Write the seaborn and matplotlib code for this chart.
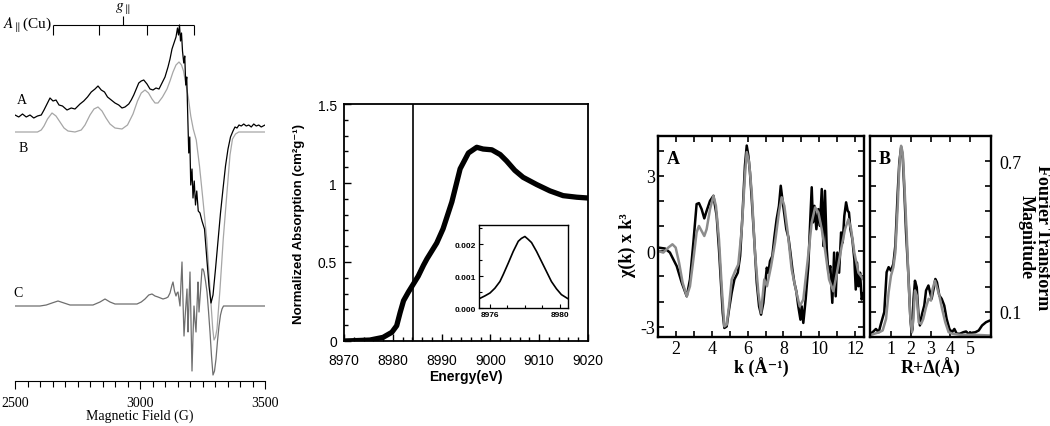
import numpy as np
import matplotlib
matplotlib.use("Agg")
import matplotlib.pyplot as plt
from matplotlib.ticker import MultipleLocator
import seaborn as sns

sns.set_style("ticks")
plt.rcParams["font.family"] = ["Liberation Serif", "DejaVu Serif"]
plt.rcParams["mathtext.fontset"] = "stix"
for key in ["text.color", "axes.labelcolor", "xtick.color", "ytick.color", "axes.edgecolor"]:
    plt.rcParams[key] = "black"
SANS = ["Liberation Sans", "DejaVu Sans"]

# ---------------- EPR spectra (field in G, signal in arbitrary units) ----------------
epr_field_a = [2500, 2515, 2530, 2545, 2560, 2575, 2590, 2605, 2616, 2628, 2640, 2652, 2664, 2676,
               2690, 2708, 2725, 2740, 2760, 2775, 2790, 2805, 2820, 2832, 2845, 2858, 2870, 2885,
               2900, 2915, 2928, 2940, 2955, 2965, 2975, 2985, 2995, 3005, 3015, 3028, 3040, 3052,
               3064, 3076, 3088, 3100, 3112, 3120, 3128, 3136, 3144, 3150, 3154, 3158, 3162, 3166,
               3170, 3175, 3179, 3183, 3187, 3191, 3195, 3199, 3203, 3208, 3212, 3217, 3222, 3227,
               3233, 3240, 3248, 3258, 3268, 3276, 3284, 3292, 3302, 3312, 3322, 3332, 3342, 3352,
               3362, 3372, 3380, 3388, 3396, 3405, 3415, 3425, 3435, 3445, 3455, 3465, 3475, 3485, 3500]
epr_a = [1, -1, 2, -1, 1, -2, 0, 1, 6, 12, 18, 15, 16, 11,
         10, 6, 8, 7, 12, 15, 19, 24, 27, 30, 26, 24, 19, 16,
         13, 11, 8, 9, 12, 16, 21, 27, 33, 35, 36, 32, 27, 26,
         28, 27, 33, 39, 49, 57, 67, 73, 79, 88, 81, 91, 75, 83,
         65, 53, 60, 31, 39, 0, -37, -21, -69, -53, -82, -65, -89, -75,
         -95, -97, -105, -113, -145, -170, -187, -179, -153, -125, -97, -73, -50, -33,
         -21, -15, -11, -12, -9, -10, -8, -10, -9, -11, -8, -10, -9, -11, -9]

epr_field_b = [2500, 2560, 2590, 2605, 2616, 2630, 2648, 2664, 2680, 2696, 2712, 2740, 2765, 2780,
               2800, 2816, 2832, 2848, 2864, 2880, 2900, 2928, 2950, 2972, 2990, 3005, 3020, 3034,
               3048, 3060, 3072, 3090, 3108, 3120, 3132, 3144, 3156, 3166, 3174, 3184, 3193, 3203,
               3213, 3225, 3238, 3253, 3267, 3280, 3291, 3296, 3302, 3308, 3320, 3333, 3349, 3360,
               3370, 3382, 3395, 3500]
epr_b = [0, 0, 0, 2, 6, 13, 19, 16, 10, 4, 1, 0, 2, 7,
         17, 23, 25, 21, 14, 8, 4, 3, 7, 18, 31, 39, 42, 39,
         33, 29, 29, 35, 43, 51, 60, 67, 70, 67, 61, 47, 35, 16,
         3, -8, -34, -71, -107, -157, -197, -208, -205, -197, -157, -107, -57, -23,
         -7, -2, 0, 0]

epr_field_c = [2500, 2600, 2625, 2648, 2672, 2696, 2720, 2812, 2840, 2860, 2880, 2900, 2988, 3005,
               3020, 3035, 3048, 3060, 3072, 3092, 3105, 3112, 3120, 3128, 3132, 3138, 3144, 3148,
               3152, 3156, 3160, 3164, 3168, 3172, 3176, 3182, 3188, 3190, 3192, 3196, 3200, 3204,
               3208, 3212, 3216, 3220, 3224, 3228, 3232, 3234, 3236, 3242, 3248, 3252, 3256, 3262,
               3268, 3274, 3280, 3286, 3292, 3298, 3304, 3310, 3316, 3322, 3328, 3334, 3340, 3500]
epr_c = [0, 0, 1, 3, 5, 3, 1, 1, 4, 7, 4, 2, 2, 4,
         7, 11, 12, 10, 9, 7, 8, 9, 13, 21, 24, 15, 10, 13,
         14, 7, 0, 23, 44, 5, -30, -5, 17, -5, -26, 5, 34, -15,
         -65, -30, 0, -15, -26, 0, 24, 10, -6, 15, 37, 37, 34, 25,
         14, -5, -26, -50, -69, -65, -53, -35, -20, -9, -3, 0, 0, 0]

hf_lines = [2652, 2836, 3028, 3216]
g_parallel = 2932

# ---------------- Cu K-edge XANES ----------------
xanes_energy = [8970, 8972, 8975.3, 8978, 8979.8, 8980.8, 8981.5, 8982.2, 8983.2, 8984.2, 8985.2,
                8986.3, 8987, 8989, 8990.3, 8992.1, 8993.8, 8995.5, 8997.2, 8998.5, 9000.3, 9002,
                9003.3, 9005, 9006.7, 9009.5, 9012.2, 9014.9, 9017.7, 9020]
xanes_abs = [0.0, 0.002, 0.006, 0.023, 0.055, 0.097, 0.18, 0.255, 0.31, 0.36, 0.41,
             0.48, 0.52, 0.62, 0.71, 0.88, 1.09, 1.19, 1.226, 1.215, 1.21, 1.18,
             1.14, 1.08, 1.036, 0.99, 0.95, 0.92, 0.91, 0.905]
edge_energy = 8984.1

pre_edge_energy = [8975.38, 8975.71, 8976.0, 8976.28, 8976.57, 8976.76, 8977.05, 8977.33, 8977.62,
                   8977.80, 8978.0, 8978.19, 8978.38, 8978.67, 8978.95, 8979.24, 8979.52, 8979.81,
                   8980.09, 8980.47]
pre_edge_abs = [0.00029, 0.00038, 0.00047, 0.00062, 0.00083, 0.00105, 0.00141, 0.00177, 0.00209,
                0.00218, 0.00224, 0.00215, 0.00205, 0.00177, 0.00146, 0.00114, 0.00083, 0.0006,
                0.00042, 0.00029]

# ---------------- EXAFS ----------------
k_data = [1.0, 1.39, 1.66, 2.04, 2.32, 2.60, 2.78, 2.97, 3.15, 3.28, 3.43, 3.58, 3.71, 3.90, 4.09,
          4.27, 4.40, 4.51, 4.61, 4.70, 4.83, 4.96, 5.11, 5.26, 5.45, 5.58, 5.71, 5.85, 5.95, 6.04,
          6.13, 6.23, 6.38, 6.51, 6.64, 6.75, 6.88, 6.97, 7.07, 7.16, 7.25, 7.38, 7.49, 7.62, 7.75,
          7.85, 7.94, 8.05, 8.16, 8.28, 8.39, 8.50, 8.61, 8.72, 8.83, 8.95, 9.02, 9.11, 9.24, 9.39,
          9.50, 9.58, 9.65, 9.73, 9.84, 9.95, 10.04, 10.14, 10.23, 10.32, 10.42, 10.51, 10.62, 10.73,
          10.83, 10.92, 11.01, 11.11, 11.22, 11.31, 11.40, 11.50, 11.59, 11.66, 11.74, 11.85, 11.96,
          12.04, 12.11, 12.19, 12.28, 12.37, 12.47]
chi_data = [0.15, 0.11, -0.05, -0.59, -1.25, -1.79, -1.12, 0.35, 1.88, 1.92, 1.68, 1.31, 1.61, 2.01, 2.21,
            1.41, 0.08, -1.25, -2.45, -3.05, -2.99, -2.32, -1.65, -1.12, -0.85, -0.19, 1.41, 3.41, 4.21, 3.81,
            3.15, 2.08, 0.35, -1.25, -2.19, -2.52, -2.05, -1.39, -0.65, -0.85, -0.39, -0.19, 0.55, 1.28, 1.81,
            2.61, 2.08, 1.48, 0.88, 0.55, -0.05, -0.72, -1.25, -1.59, -2.19, -2.72, -2.19, -2.85, -1.92, -0.59,
            1.28, 2.55, 1.15, 1.81, 0.88, 1.68, 1.01, 2.48, 0.21, 2.41, 0.08, -0.85, -0.59, -2.05,
            -0.05, -1.79, -0.05, -0.85, 0.75, 0.35, 1.41, 1.95, 1.61, 1.55, 0.88, 0.48, -0.32,
            -1.52, -0.45, -1.39, -0.85, -1.92, -1.65]

k_fit = [1.0, 1.29, 1.57, 1.80, 1.98, 2.17, 2.37, 2.60, 2.78, 2.97, 3.15, 3.28, 3.43, 3.58, 3.71,
         3.90, 4.09, 4.23, 4.40, 4.55, 4.70, 4.83, 4.96, 5.11, 5.30, 5.48, 5.67, 5.85, 5.95, 6.08,
         6.23, 6.41, 6.60, 6.75, 6.93, 7.08, 7.31, 7.53, 7.75, 7.90, 8.05, 8.24, 8.46, 8.69, 8.91,
         9.11, 9.36, 9.58, 9.77, 9.95, 10.14, 10.32, 10.55, 10.79, 10.99, 11.22, 11.44, 11.63, 11.78,
         11.96, 12.19, 12.47]
chi_fit = [0.01, -0.05, 0.15, 0.28, 0.15, -0.45, -1.25, -1.79, -1.39, -0.32, 0.75, 1.01, 0.81, 0.61, 0.88,
           1.68, 2.21, 1.81, 0.48, -1.39, -2.99, -2.92, -2.19, -1.12, -0.79, -0.52, 0.88, 3.01, 3.95, 3.55,
           2.35, -0.05, -1.65, -2.45, -1.12, -1.39, -0.59, 0.35, 1.55, 2.15, 1.81, 0.75, -0.72, -1.52, -2.19,
           -1.92, -0.32, 1.15, 1.75, 1.55, 0.88, 0.08, -1.12, -1.59, -0.85, 0.08, 0.88, 1.28, 0.88,
           -0.05, -0.85, -1.12]

r_data = [-0.09, 0.07, 0.24, 0.38, 0.49, 0.66, 0.78, 0.88, 1.0, 1.12, 1.22, 1.34, 1.42, 1.51, 1.59,
          1.67, 1.76, 1.88, 1.98, 2.04, 2.09, 2.14, 2.21, 2.30, 2.38, 2.46, 2.57, 2.68, 2.77, 2.89,
          2.97, 3.05, 3.15, 3.24, 3.32, 3.44, 3.56, 3.69, 3.81, 3.95, 4.08, 4.20, 4.32, 4.48, 4.65,
          4.79, 4.92, 5.09, 5.26, 5.43, 5.60, 5.80, 6.0]
ft_data = [0.013, 0.019, 0.032, 0.019, 0.052, 0.099, 0.258, 0.278, 0.264, 0.291, 0.364, 0.576, 0.695, 0.754, 0.721,
           0.589, 0.417, 0.244, 0.072, 0.019, 0.032, 0.152, 0.224, 0.198, 0.099, 0.046, 0.092, 0.125, 0.185, 0.205,
           0.178, 0.152, 0.191, 0.231, 0.218, 0.165, 0.152, 0.125, 0.072, 0.032, 0.019, 0.032, 0.013, 0.013, 0.019,
           0.022, 0.013, 0.017, 0.019, 0.026, 0.046, 0.059, 0.066]
r_fit = [-0.09, 0.16, 0.41, 0.58, 0.75, 0.88, 1.0, 1.12, 1.22, 1.34, 1.42, 1.51, 1.59, 1.67, 1.79,
         1.89, 1.98, 2.06, 2.13, 2.21, 2.30, 2.40, 2.52, 2.63, 2.77, 2.90, 3.02, 3.10, 3.22, 3.32,
         3.44, 3.58, 3.74, 3.91, 4.11, 4.45, 5.12, 6.0]
ft_fit = [0.006, 0.013, 0.019, 0.026, 0.072, 0.178, 0.244, 0.278, 0.337, 0.523, 0.681, 0.761, 0.734, 0.615, 0.417,
          0.218, 0.072, 0.019, 0.072, 0.185, 0.165, 0.059, 0.052, 0.072, 0.119, 0.152, 0.145, 0.191, 0.224, 0.198,
          0.165, 0.112, 0.059, 0.019, 0.013, 0.009, 0.009, 0.006]

W, H = 1050, 427
fig = plt.figure(figsize=(W / 100, H / 100), dpi=100)

def line(ax, x, y, **kw):
    sns.lineplot(x=x, y=y, ax=ax, estimator=None, sort=False, legend=False, **kw)

# ---- panel 1: EPR ----
ax1 = fig.add_axes([15 / W, 45 / H, 250 / W, 382 / H])
line(ax1, epr_field_c, np.array(epr_c) + 75, color="#6e6e6e", lw=0.9)
line(ax1, epr_field_b, np.array(epr_b) + 249, color="#a6a6a6", lw=0.9)
line(ax1, epr_field_a, np.array(epr_a) + 265, color="black", lw=0.9)
ax1.hlines(356, hf_lines[0], hf_lines[-1], color="black", lw=0.8)
ax1.vlines(hf_lines, 346, 356, color="black", lw=0.8)
ax1.vlines(g_parallel, 356, 365, color="black", lw=0.8)
ax1.text(g_parallel, 366, r"$g_{\parallel}$", ha="center", va="bottom", fontsize=11)
ax1.text(hf_lines[0] - 3, 356, r"$A_{\parallel}$(Cu)", ha="right", va="center", fontsize=11)
ax1.text(2528, 282, "A", ha="center", va="center", fontsize=10)
ax1.text(2532, 233, "B", ha="center", va="center", fontsize=10)
ax1.text(2512, 88, "C", ha="center", va="center", fontsize=10)
ax1.set_xlim(2500, 3500)
ax1.set_ylim(0, 382)
for s in ["left", "top", "right"]:
    ax1.spines[s].set_visible(False)
ax1.spines["bottom"].set_linewidth(0.8)
ax1.set_yticks([])
ax1.set_xticks([2500, 3000, 3500])
ax1.xaxis.set_minor_locator(MultipleLocator(50))
ax1.tick_params(axis="x", which="major", direction="out", length=6, width=0.8, labelsize=10, pad=5)
ax1.tick_params(axis="x", which="minor", direction="out", length=4, width=0.8)
ax1.set_xlabel("Magnetic Field (G)", fontsize=10)
ax1.xaxis.set_label_coords(0.5, -28 / 382)
ax1.set_ylabel("")
ax1.patch.set_alpha(0)

# ---- panel 2: XANES ----
ax2 = fig.add_axes([344 / W, 85 / H, 244 / W, 237 / H])
line(ax2, xanes_energy, xanes_abs, color="black", lw=3.8)
ax2.axvline(edge_energy, color="black", lw=1.2)
ax2.set_xlim(8970, 9020)
ax2.set_ylim(0, 1.5)
ax2.set_xticks([8970, 8980, 8990, 9000, 9010, 9020],
               ["8970", "8980", "8990", "9000", "9010", "9020"], fontfamily=SANS)
ax2.set_yticks([0, 0.5, 1, 1.5], ["0", "0.5", "1", "1.5"], fontfamily=SANS)
ax2.xaxis.set_minor_locator(MultipleLocator(2))
ax2.yaxis.set_minor_locator(MultipleLocator(0.1))
ax2.tick_params(which="both", direction="in", top=False, right=False, width=1.0, labelsize=10)
ax2.tick_params(which="major", length=5)
ax2.tick_params(axis="x", which="major", pad=9)
ax2.tick_params(axis="y", which="major", pad=5)
ax2.tick_params(which="minor", length=3)
for s in ax2.spines.values():
    s.set_linewidth(1.3)
ax2.set_xlabel("Energy(eV)", fontsize=10, fontweight="bold", fontfamily=SANS)
ax2.set_ylabel("Normalized Absorption (cm²g⁻¹)", fontsize=9.5, fontweight="bold", fontfamily=SANS)
ax2.xaxis.set_label_coords(0.5, -0.118)
ax2.yaxis.set_label_coords(-0.16, 0.5)

ax3 = fig.add_axes([479 / W, 118 / H, 89 / W, 83 / H])
line(ax3, pre_edge_energy, pre_edge_abs, color="black", lw=1.2)
ax3.set_xlim(8975.37, 8980.47)
ax3.set_ylim(0, 0.0026)
ax3.set_xticks([8976, 8980], ["8976", "8980"], fontfamily=SANS, fontweight="bold")
ax3.set_yticks([0, 0.001, 0.002], ["0.000", "0.001", "0.002"], fontfamily=SANS, fontweight="bold")
ax3.xaxis.set_minor_locator(MultipleLocator(1))
ax3.yaxis.set_minor_locator(MultipleLocator(0.0005))
ax3.tick_params(which="both", direction="in", top=False, right=False, width=0.8, labelsize=6, pad=2)
ax3.tick_params(which="major", length=3)
ax3.tick_params(which="minor", length=2)
ax3.set_xlabel("")
ax3.set_ylabel("")
for s in ax3.spines.values():
    s.set_linewidth(1.0)

# ---- panel 3: EXAFS A ----
ax4 = fig.add_axes([658 / W, 89 / H, 206 / W, 201 / H])
line(ax4, k_data, chi_data, color="black", lw=1.8)
line(ax4, k_fit, chi_fit, color="#8c8c8c", lw=1.8)
ax4.set_xlim(0.994, 12.5)
ax4.set_ylim(-3.41, 4.59)
ax4.set_xticks([2, 4, 6, 8, 10, 12])
ax4.set_yticks([-3, 0, 3], ["-3", "0", "3"])
ax4.xaxis.set_minor_locator(MultipleLocator(1))
ax4.yaxis.set_minor_locator(MultipleLocator(1))
ax4.tick_params(which="both", direction="in", top=True, right=True, length=4.5, width=1.2,
                labelsize=13, pad=2)
for s in ax4.spines.values():
    s.set_linewidth(1.7)
ax4.set_xlabel("k (Å⁻¹)", fontsize=13, fontweight="bold")
ax4.set_ylabel("χ(k) x k³", fontsize=13, fontweight="bold")
ax4.xaxis.set_label_coords(0.5, -0.10)
ax4.yaxis.set_label_coords(-0.105, 0.46)
ax4.text(0.044, 0.93, "A", transform=ax4.transAxes, fontsize=13, fontweight="bold", va="top")

# ---- panel 3: EXAFS B ----
ax5 = fig.add_axes([870 / W, 89 / H, 121 / W, 201 / H])
line(ax5, r_data, ft_data, color="black", lw=1.8)
line(ax5, r_fit, ft_fit, color="#8c8c8c", lw=1.8)
ax5.set_xlim(-0.06, 6.05)
ax5.set_ylim(0, 0.8)
ax5.set_xticks([1, 2, 3, 4, 5])
ax5.set_yticks([0.1, 0.7], ["0.1", "0.7"])
ax5.yaxis.set_minor_locator(MultipleLocator(0.1))
ax5.tick_params(which="both", direction="in", top=True, right=True, left=True, length=4.5, width=1.2,
                labelsize=13, pad=2)
ax5.tick_params(axis="y", which="both", labelleft=False, labelright=True, pad=6)
for s in ax5.spines.values():
    s.set_linewidth(1.7)
ax5.set_xlabel("R+Δ(Å)", fontsize=13, fontweight="bold")
ax5.xaxis.set_label_coords(0.5, -0.10)
ax5.yaxis.set_label_position("right")
ax5.set_ylabel("Fourier Transform\nMagnitude", fontsize=13, fontweight="bold", rotation=270,
               va="center", ha="center", linespacing=0.95)
ax5.yaxis.set_label_coords(1.355, 0.5)
ax5.text(0.074, 0.93, "B", transform=ax5.transAxes, fontsize=13, fontweight="bold", va="top")

fig.savefig("out.png", dpi=100)
